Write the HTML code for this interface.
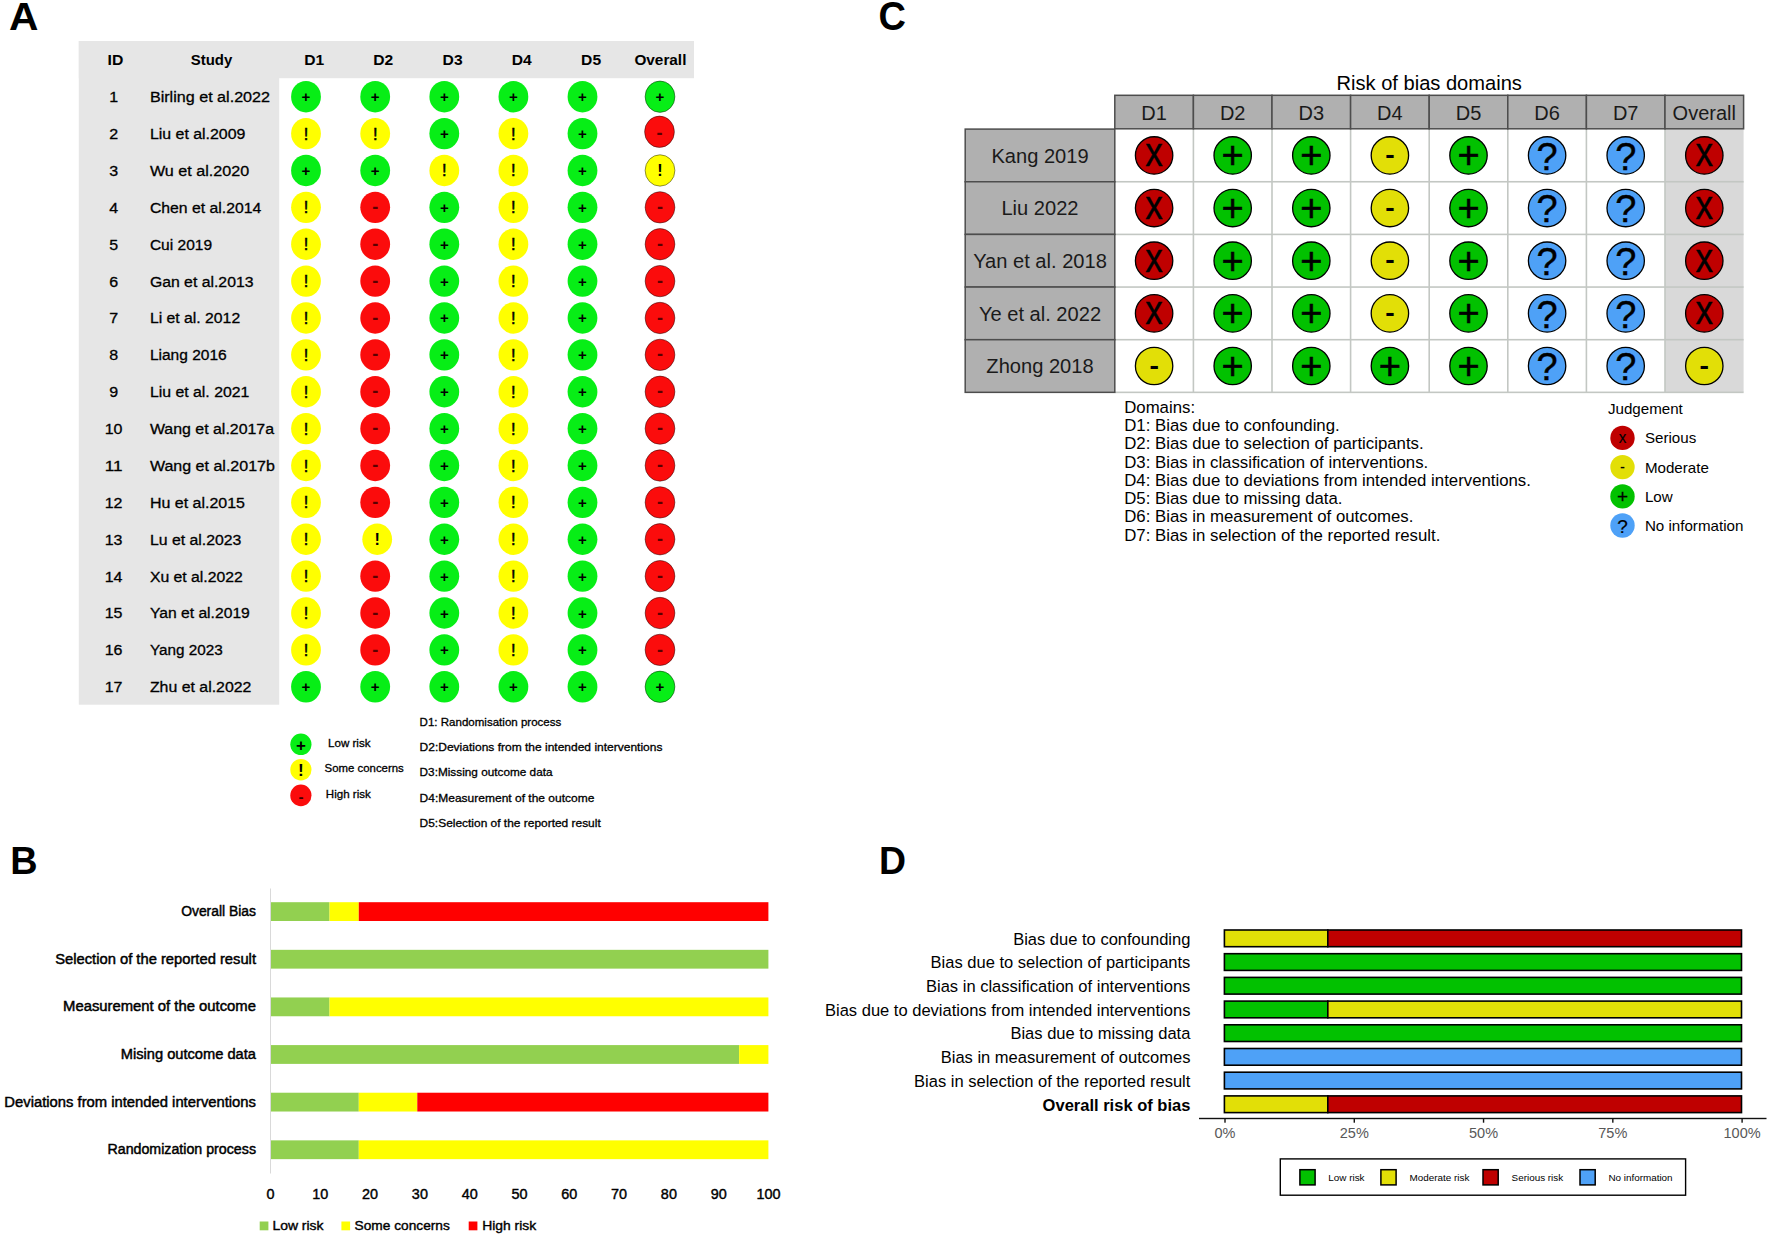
<!DOCTYPE html>
<html lang="en"><head><meta charset="utf-8"><title>Risk of bias figure</title>
<style>
html,body{margin:0;padding:0;background:#fff;}
body{width:1772px;height:1242px;overflow:hidden;font-family:"Liberation Sans",Arial,Helvetica,sans-serif;}
svg{display:block;}
svg text{font-family:"Liberation Sans",Arial,Helvetica,sans-serif;}
</style></head><body>
<svg width="1772" height="1242" viewBox="0 0 1772 1242">
<rect width="1772" height="1242" fill="#fff"/>
<text transform="translate(8.92,29.80) scale(1.030,1)" x="0" y="0" font-size="39.6" font-weight="bold" fill="#000">A</text>
<text transform="translate(10.26,874.00) scale(0.958,1)" x="0" y="0" font-size="39.5" font-weight="bold" fill="#000">B</text>
<text transform="translate(878.43,30.20) scale(0.922,1)" x="0" y="0" font-size="41.2" font-weight="bold" fill="#000">C</text>
<text transform="translate(878.96,874.00) scale(0.952,1)" x="0" y="0" font-size="39.3" font-weight="bold" fill="#000">D</text>
<rect x="78.8" y="41" width="615.2" height="37.2" fill="#e6e6e6"/>
<rect x="78.8" y="41" width="200.4" height="663.7" fill="#e6e6e6"/>
<text x="107.63" y="65.30" font-size="15.50" font-weight="bold" fill="#000" textLength="15.74" lengthAdjust="spacingAndGlyphs">ID</text>
<text x="190.74" y="65.30" font-size="15.50" font-weight="bold" fill="#000" textLength="41.53" lengthAdjust="spacingAndGlyphs">Study</text>
<text x="304.22" y="65.30" font-size="15.50" font-weight="bold" fill="#000" textLength="19.96" lengthAdjust="spacingAndGlyphs">D1</text>
<text x="373.32" y="65.30" font-size="15.50" font-weight="bold" fill="#000" textLength="19.96" lengthAdjust="spacingAndGlyphs">D2</text>
<text x="442.62" y="65.30" font-size="15.50" font-weight="bold" fill="#000" textLength="19.96" lengthAdjust="spacingAndGlyphs">D3</text>
<text x="511.82" y="65.30" font-size="15.50" font-weight="bold" fill="#000" textLength="19.96" lengthAdjust="spacingAndGlyphs">D4</text>
<text x="581.12" y="65.30" font-size="15.50" font-weight="bold" fill="#000" textLength="19.96" lengthAdjust="spacingAndGlyphs">D5</text>
<text x="634.41" y="65.30" font-size="15.50" font-weight="bold" fill="#000" textLength="51.98" lengthAdjust="spacingAndGlyphs">Overall</text>
<text x="109.15" y="102.10" font-size="15.50" fill="#000" stroke="#000" stroke-width="0.3" textLength="8.90" lengthAdjust="spacingAndGlyphs">1</text>
<text x="149.90" y="102.10" font-size="15.50" fill="#000" stroke="#000" stroke-width="0.3" textLength="120.13" lengthAdjust="spacingAndGlyphs">Birling et al.2022</text>
<ellipse cx="306.00" cy="96.70" rx="14.9" ry="15.7" fill="#07ee16"/>
<text x="306.00" y="102.20" font-size="15.0" font-weight="bold" text-anchor="middle" fill="#000">+</text>
<ellipse cx="375.20" cy="96.70" rx="14.9" ry="15.7" fill="#07ee16"/>
<text x="375.20" y="102.20" font-size="15.0" font-weight="bold" text-anchor="middle" fill="#000">+</text>
<ellipse cx="444.30" cy="96.70" rx="14.9" ry="15.7" fill="#07ee16"/>
<text x="444.30" y="102.20" font-size="15.0" font-weight="bold" text-anchor="middle" fill="#000">+</text>
<ellipse cx="513.40" cy="96.70" rx="14.9" ry="15.7" fill="#07ee16"/>
<text x="513.40" y="102.20" font-size="15.0" font-weight="bold" text-anchor="middle" fill="#000">+</text>
<ellipse cx="582.50" cy="96.70" rx="14.9" ry="15.7" fill="#07ee16"/>
<text x="582.50" y="102.20" font-size="15.0" font-weight="bold" text-anchor="middle" fill="#000">+</text>
<ellipse cx="660.00" cy="96.70" rx="14.9" ry="15.7" fill="#07ee16" stroke="#000" stroke-opacity="0.55" stroke-width="0.8"/>
<text x="660.00" y="102.20" font-size="15.0" font-weight="bold" text-anchor="middle" fill="#000">+</text>
<text x="109.15" y="138.98" font-size="15.50" fill="#000" stroke="#000" stroke-width="0.3" textLength="8.90" lengthAdjust="spacingAndGlyphs">2</text>
<text x="149.90" y="138.98" font-size="15.50" fill="#000" stroke="#000" stroke-width="0.3" textLength="95.52" lengthAdjust="spacingAndGlyphs">Liu et al.2009</text>
<ellipse cx="306.00" cy="133.58" rx="14.9" ry="15.7" fill="#ffff00"/>
<text x="306.00" y="139.58" font-size="16.4" text-anchor="middle" fill="#000" stroke="#000" stroke-width="0.5">!</text>
<ellipse cx="375.20" cy="133.58" rx="14.9" ry="15.7" fill="#ffff00"/>
<text x="375.20" y="139.58" font-size="16.4" text-anchor="middle" fill="#000" stroke="#000" stroke-width="0.5">!</text>
<ellipse cx="444.30" cy="133.58" rx="14.9" ry="15.7" fill="#07ee16"/>
<text x="444.30" y="139.08" font-size="15.0" font-weight="bold" text-anchor="middle" fill="#000">+</text>
<ellipse cx="513.40" cy="133.58" rx="14.9" ry="15.7" fill="#ffff00"/>
<text x="513.40" y="139.58" font-size="16.4" text-anchor="middle" fill="#000" stroke="#000" stroke-width="0.5">!</text>
<ellipse cx="582.50" cy="133.58" rx="14.9" ry="15.7" fill="#07ee16"/>
<text x="582.50" y="139.08" font-size="15.0" font-weight="bold" text-anchor="middle" fill="#000">+</text>
<ellipse cx="659.50" cy="131.78" rx="14.9" ry="15.7" fill="#fb0c0c" stroke="#000" stroke-opacity="0.55" stroke-width="0.8"/>
<text x="659.50" y="139.18" font-size="18.0" font-weight="bold" text-anchor="middle" fill="#5a0000">-</text>
<text x="109.15" y="175.86" font-size="15.50" fill="#000" stroke="#000" stroke-width="0.3" textLength="8.90" lengthAdjust="spacingAndGlyphs">3</text>
<text x="149.90" y="175.86" font-size="15.50" fill="#000" stroke="#000" stroke-width="0.3" textLength="99.22" lengthAdjust="spacingAndGlyphs">Wu et al.2020</text>
<ellipse cx="306.00" cy="170.46" rx="14.9" ry="15.7" fill="#07ee16"/>
<text x="306.00" y="175.96" font-size="15.0" font-weight="bold" text-anchor="middle" fill="#000">+</text>
<ellipse cx="375.20" cy="170.46" rx="14.9" ry="15.7" fill="#07ee16"/>
<text x="375.20" y="175.96" font-size="15.0" font-weight="bold" text-anchor="middle" fill="#000">+</text>
<ellipse cx="444.30" cy="170.46" rx="14.9" ry="15.7" fill="#ffff00"/>
<text x="444.30" y="176.46" font-size="16.4" text-anchor="middle" fill="#000" stroke="#000" stroke-width="0.5">!</text>
<ellipse cx="513.40" cy="170.46" rx="14.9" ry="15.7" fill="#ffff00"/>
<text x="513.40" y="176.46" font-size="16.4" text-anchor="middle" fill="#000" stroke="#000" stroke-width="0.5">!</text>
<ellipse cx="582.50" cy="170.46" rx="14.9" ry="15.7" fill="#07ee16"/>
<text x="582.50" y="175.96" font-size="15.0" font-weight="bold" text-anchor="middle" fill="#000">+</text>
<ellipse cx="660.00" cy="170.46" rx="14.9" ry="15.7" fill="#ffff00" stroke="#000" stroke-opacity="0.55" stroke-width="0.8"/>
<text x="660.00" y="176.36" font-size="16.2" font-weight="bold" text-anchor="middle" fill="#000">!</text>
<text x="109.15" y="212.74" font-size="15.50" fill="#000" stroke="#000" stroke-width="0.3" textLength="8.90" lengthAdjust="spacingAndGlyphs">4</text>
<text x="149.90" y="212.74" font-size="15.50" fill="#000" stroke="#000" stroke-width="0.3" textLength="111.43" lengthAdjust="spacingAndGlyphs">Chen et al.2014</text>
<ellipse cx="306.00" cy="207.34" rx="14.9" ry="15.7" fill="#ffff00"/>
<text x="306.00" y="213.34" font-size="16.4" text-anchor="middle" fill="#000" stroke="#000" stroke-width="0.5">!</text>
<ellipse cx="375.20" cy="207.34" rx="14.9" ry="15.7" fill="#fb0c0c"/>
<text x="375.20" y="212.94" font-size="18.0" font-weight="bold" text-anchor="middle" fill="#5a0000">-</text>
<ellipse cx="444.30" cy="207.34" rx="14.9" ry="15.7" fill="#07ee16"/>
<text x="444.30" y="212.84" font-size="15.0" font-weight="bold" text-anchor="middle" fill="#000">+</text>
<ellipse cx="513.40" cy="207.34" rx="14.9" ry="15.7" fill="#ffff00"/>
<text x="513.40" y="213.34" font-size="16.4" text-anchor="middle" fill="#000" stroke="#000" stroke-width="0.5">!</text>
<ellipse cx="582.50" cy="207.34" rx="14.9" ry="15.7" fill="#07ee16"/>
<text x="582.50" y="212.84" font-size="15.0" font-weight="bold" text-anchor="middle" fill="#000">+</text>
<ellipse cx="660.00" cy="207.34" rx="14.9" ry="15.7" fill="#fb0c0c" stroke="#000" stroke-opacity="0.55" stroke-width="0.8"/>
<text x="660.00" y="212.94" font-size="18.0" font-weight="bold" text-anchor="middle" fill="#5a0000">-</text>
<text x="109.15" y="249.62" font-size="15.50" fill="#000" stroke="#000" stroke-width="0.3" textLength="8.90" lengthAdjust="spacingAndGlyphs">5</text>
<text x="149.90" y="249.62" font-size="15.50" fill="#000" stroke="#000" stroke-width="0.3" textLength="62.15" lengthAdjust="spacingAndGlyphs">Cui 2019</text>
<ellipse cx="306.00" cy="244.22" rx="14.9" ry="15.7" fill="#ffff00"/>
<text x="306.00" y="250.22" font-size="16.4" text-anchor="middle" fill="#000" stroke="#000" stroke-width="0.5">!</text>
<ellipse cx="375.20" cy="244.22" rx="14.9" ry="15.7" fill="#fb0c0c"/>
<text x="375.20" y="249.82" font-size="18.0" font-weight="bold" text-anchor="middle" fill="#5a0000">-</text>
<ellipse cx="444.30" cy="244.22" rx="14.9" ry="15.7" fill="#07ee16"/>
<text x="444.30" y="249.72" font-size="15.0" font-weight="bold" text-anchor="middle" fill="#000">+</text>
<ellipse cx="513.40" cy="244.22" rx="14.9" ry="15.7" fill="#ffff00"/>
<text x="513.40" y="250.22" font-size="16.4" text-anchor="middle" fill="#000" stroke="#000" stroke-width="0.5">!</text>
<ellipse cx="582.50" cy="244.22" rx="14.9" ry="15.7" fill="#07ee16"/>
<text x="582.50" y="249.72" font-size="15.0" font-weight="bold" text-anchor="middle" fill="#000">+</text>
<ellipse cx="660.00" cy="244.22" rx="14.9" ry="15.7" fill="#fb0c0c" stroke="#000" stroke-opacity="0.55" stroke-width="0.8"/>
<text x="660.00" y="249.82" font-size="18.0" font-weight="bold" text-anchor="middle" fill="#5a0000">-</text>
<text x="109.15" y="286.50" font-size="15.50" fill="#000" stroke="#000" stroke-width="0.3" textLength="8.90" lengthAdjust="spacingAndGlyphs">6</text>
<text x="149.90" y="286.50" font-size="15.50" fill="#000" stroke="#000" stroke-width="0.3" textLength="103.60" lengthAdjust="spacingAndGlyphs">Gan et al.2013</text>
<ellipse cx="306.00" cy="281.10" rx="14.9" ry="15.7" fill="#ffff00"/>
<text x="306.00" y="287.10" font-size="16.4" text-anchor="middle" fill="#000" stroke="#000" stroke-width="0.5">!</text>
<ellipse cx="375.20" cy="281.10" rx="14.9" ry="15.7" fill="#fb0c0c"/>
<text x="375.20" y="286.70" font-size="18.0" font-weight="bold" text-anchor="middle" fill="#5a0000">-</text>
<ellipse cx="444.30" cy="281.10" rx="14.9" ry="15.7" fill="#07ee16"/>
<text x="444.30" y="286.60" font-size="15.0" font-weight="bold" text-anchor="middle" fill="#000">+</text>
<ellipse cx="513.40" cy="281.10" rx="14.9" ry="15.7" fill="#ffff00"/>
<text x="513.40" y="287.10" font-size="16.4" text-anchor="middle" fill="#000" stroke="#000" stroke-width="0.5">!</text>
<ellipse cx="582.50" cy="281.10" rx="14.9" ry="15.7" fill="#07ee16"/>
<text x="582.50" y="286.60" font-size="15.0" font-weight="bold" text-anchor="middle" fill="#000">+</text>
<ellipse cx="660.00" cy="281.10" rx="14.9" ry="15.7" fill="#fb0c0c" stroke="#000" stroke-opacity="0.55" stroke-width="0.8"/>
<text x="660.00" y="286.70" font-size="18.0" font-weight="bold" text-anchor="middle" fill="#5a0000">-</text>
<text x="109.15" y="323.38" font-size="15.50" fill="#000" stroke="#000" stroke-width="0.3" textLength="8.90" lengthAdjust="spacingAndGlyphs">7</text>
<text x="149.90" y="323.38" font-size="15.50" fill="#000" stroke="#000" stroke-width="0.3" textLength="90.27" lengthAdjust="spacingAndGlyphs">Li et al. 2012</text>
<ellipse cx="306.00" cy="317.98" rx="14.9" ry="15.7" fill="#ffff00"/>
<text x="306.00" y="323.98" font-size="16.4" text-anchor="middle" fill="#000" stroke="#000" stroke-width="0.5">!</text>
<ellipse cx="375.20" cy="317.98" rx="14.9" ry="15.7" fill="#fb0c0c"/>
<text x="375.20" y="323.58" font-size="18.0" font-weight="bold" text-anchor="middle" fill="#5a0000">-</text>
<ellipse cx="444.30" cy="317.98" rx="14.9" ry="15.7" fill="#07ee16"/>
<text x="444.30" y="323.48" font-size="15.0" font-weight="bold" text-anchor="middle" fill="#000">+</text>
<ellipse cx="513.40" cy="317.98" rx="14.9" ry="15.7" fill="#ffff00"/>
<text x="513.40" y="323.98" font-size="16.4" text-anchor="middle" fill="#000" stroke="#000" stroke-width="0.5">!</text>
<ellipse cx="582.50" cy="317.98" rx="14.9" ry="15.7" fill="#07ee16"/>
<text x="582.50" y="323.48" font-size="15.0" font-weight="bold" text-anchor="middle" fill="#000">+</text>
<ellipse cx="660.00" cy="317.98" rx="14.9" ry="15.7" fill="#fb0c0c" stroke="#000" stroke-opacity="0.55" stroke-width="0.8"/>
<text x="660.00" y="323.58" font-size="18.0" font-weight="bold" text-anchor="middle" fill="#5a0000">-</text>
<text x="109.15" y="360.26" font-size="15.50" fill="#000" stroke="#000" stroke-width="0.3" textLength="8.90" lengthAdjust="spacingAndGlyphs">8</text>
<text x="149.90" y="360.26" font-size="15.50" fill="#000" stroke="#000" stroke-width="0.3" textLength="76.84" lengthAdjust="spacingAndGlyphs">Liang 2016</text>
<ellipse cx="306.00" cy="354.86" rx="14.9" ry="15.7" fill="#ffff00"/>
<text x="306.00" y="360.86" font-size="16.4" text-anchor="middle" fill="#000" stroke="#000" stroke-width="0.5">!</text>
<ellipse cx="375.20" cy="354.86" rx="14.9" ry="15.7" fill="#fb0c0c"/>
<text x="375.20" y="360.46" font-size="18.0" font-weight="bold" text-anchor="middle" fill="#5a0000">-</text>
<ellipse cx="444.30" cy="354.86" rx="14.9" ry="15.7" fill="#07ee16"/>
<text x="444.30" y="360.36" font-size="15.0" font-weight="bold" text-anchor="middle" fill="#000">+</text>
<ellipse cx="513.40" cy="354.86" rx="14.9" ry="15.7" fill="#ffff00"/>
<text x="513.40" y="360.86" font-size="16.4" text-anchor="middle" fill="#000" stroke="#000" stroke-width="0.5">!</text>
<ellipse cx="582.50" cy="354.86" rx="14.9" ry="15.7" fill="#07ee16"/>
<text x="582.50" y="360.36" font-size="15.0" font-weight="bold" text-anchor="middle" fill="#000">+</text>
<ellipse cx="660.00" cy="354.86" rx="14.9" ry="15.7" fill="#fb0c0c" stroke="#000" stroke-opacity="0.55" stroke-width="0.8"/>
<text x="660.00" y="360.46" font-size="18.0" font-weight="bold" text-anchor="middle" fill="#5a0000">-</text>
<text x="109.15" y="397.14" font-size="15.50" fill="#000" stroke="#000" stroke-width="0.3" textLength="8.90" lengthAdjust="spacingAndGlyphs">9</text>
<text x="149.90" y="397.14" font-size="15.50" fill="#000" stroke="#000" stroke-width="0.3" textLength="99.49" lengthAdjust="spacingAndGlyphs">Liu et al. 2021</text>
<ellipse cx="306.00" cy="391.74" rx="14.9" ry="15.7" fill="#ffff00"/>
<text x="306.00" y="397.74" font-size="16.4" text-anchor="middle" fill="#000" stroke="#000" stroke-width="0.5">!</text>
<ellipse cx="375.20" cy="391.74" rx="14.9" ry="15.7" fill="#fb0c0c"/>
<text x="375.20" y="397.34" font-size="18.0" font-weight="bold" text-anchor="middle" fill="#5a0000">-</text>
<ellipse cx="444.30" cy="391.74" rx="14.9" ry="15.7" fill="#07ee16"/>
<text x="444.30" y="397.24" font-size="15.0" font-weight="bold" text-anchor="middle" fill="#000">+</text>
<ellipse cx="513.40" cy="391.74" rx="14.9" ry="15.7" fill="#ffff00"/>
<text x="513.40" y="397.74" font-size="16.4" text-anchor="middle" fill="#000" stroke="#000" stroke-width="0.5">!</text>
<ellipse cx="582.50" cy="391.74" rx="14.9" ry="15.7" fill="#07ee16"/>
<text x="582.50" y="397.24" font-size="15.0" font-weight="bold" text-anchor="middle" fill="#000">+</text>
<ellipse cx="660.00" cy="391.74" rx="14.9" ry="15.7" fill="#fb0c0c" stroke="#000" stroke-opacity="0.55" stroke-width="0.8"/>
<text x="660.00" y="397.34" font-size="18.0" font-weight="bold" text-anchor="middle" fill="#5a0000">-</text>
<text x="104.70" y="434.02" font-size="15.50" fill="#000" stroke="#000" stroke-width="0.3" textLength="17.79" lengthAdjust="spacingAndGlyphs">10</text>
<text x="149.90" y="434.02" font-size="15.50" fill="#000" stroke="#000" stroke-width="0.3" textLength="124.20" lengthAdjust="spacingAndGlyphs">Wang et al.2017a</text>
<ellipse cx="306.00" cy="428.62" rx="14.9" ry="15.7" fill="#ffff00"/>
<text x="306.00" y="434.62" font-size="16.4" text-anchor="middle" fill="#000" stroke="#000" stroke-width="0.5">!</text>
<ellipse cx="375.20" cy="428.62" rx="14.9" ry="15.7" fill="#fb0c0c"/>
<text x="375.20" y="434.22" font-size="18.0" font-weight="bold" text-anchor="middle" fill="#5a0000">-</text>
<ellipse cx="444.30" cy="428.62" rx="14.9" ry="15.7" fill="#07ee16"/>
<text x="444.30" y="434.12" font-size="15.0" font-weight="bold" text-anchor="middle" fill="#000">+</text>
<ellipse cx="513.40" cy="428.62" rx="14.9" ry="15.7" fill="#ffff00"/>
<text x="513.40" y="434.62" font-size="16.4" text-anchor="middle" fill="#000" stroke="#000" stroke-width="0.5">!</text>
<ellipse cx="582.50" cy="428.62" rx="14.9" ry="15.7" fill="#07ee16"/>
<text x="582.50" y="434.12" font-size="15.0" font-weight="bold" text-anchor="middle" fill="#000">+</text>
<ellipse cx="660.00" cy="428.62" rx="14.9" ry="15.7" fill="#fb0c0c" stroke="#000" stroke-opacity="0.55" stroke-width="0.8"/>
<text x="660.00" y="434.22" font-size="18.0" font-weight="bold" text-anchor="middle" fill="#5a0000">-</text>
<text x="104.70" y="470.90" font-size="15.50" fill="#000" stroke="#000" stroke-width="0.3" textLength="17.79" lengthAdjust="spacingAndGlyphs">11</text>
<text x="149.90" y="470.90" font-size="15.50" fill="#000" stroke="#000" stroke-width="0.3" textLength="125.01" lengthAdjust="spacingAndGlyphs">Wang et al.2017b</text>
<ellipse cx="306.00" cy="465.50" rx="14.9" ry="15.7" fill="#ffff00"/>
<text x="306.00" y="471.50" font-size="16.4" text-anchor="middle" fill="#000" stroke="#000" stroke-width="0.5">!</text>
<ellipse cx="375.20" cy="465.50" rx="14.9" ry="15.7" fill="#fb0c0c"/>
<text x="375.20" y="471.10" font-size="18.0" font-weight="bold" text-anchor="middle" fill="#5a0000">-</text>
<ellipse cx="444.30" cy="465.50" rx="14.9" ry="15.7" fill="#07ee16"/>
<text x="444.30" y="471.00" font-size="15.0" font-weight="bold" text-anchor="middle" fill="#000">+</text>
<ellipse cx="513.40" cy="465.50" rx="14.9" ry="15.7" fill="#ffff00"/>
<text x="513.40" y="471.50" font-size="16.4" text-anchor="middle" fill="#000" stroke="#000" stroke-width="0.5">!</text>
<ellipse cx="582.50" cy="465.50" rx="14.9" ry="15.7" fill="#07ee16"/>
<text x="582.50" y="471.00" font-size="15.0" font-weight="bold" text-anchor="middle" fill="#000">+</text>
<ellipse cx="660.00" cy="465.50" rx="14.9" ry="15.7" fill="#fb0c0c" stroke="#000" stroke-opacity="0.55" stroke-width="0.8"/>
<text x="660.00" y="471.10" font-size="18.0" font-weight="bold" text-anchor="middle" fill="#5a0000">-</text>
<text x="104.70" y="507.78" font-size="15.50" fill="#000" stroke="#000" stroke-width="0.3" textLength="17.79" lengthAdjust="spacingAndGlyphs">12</text>
<text x="149.90" y="507.78" font-size="15.50" fill="#000" stroke="#000" stroke-width="0.3" textLength="95.05" lengthAdjust="spacingAndGlyphs">Hu et al.2015</text>
<ellipse cx="306.00" cy="502.38" rx="14.9" ry="15.7" fill="#ffff00"/>
<text x="306.00" y="508.38" font-size="16.4" text-anchor="middle" fill="#000" stroke="#000" stroke-width="0.5">!</text>
<ellipse cx="375.20" cy="502.38" rx="14.9" ry="15.7" fill="#fb0c0c"/>
<text x="375.20" y="507.98" font-size="18.0" font-weight="bold" text-anchor="middle" fill="#5a0000">-</text>
<ellipse cx="444.30" cy="502.38" rx="14.9" ry="15.7" fill="#07ee16"/>
<text x="444.30" y="507.88" font-size="15.0" font-weight="bold" text-anchor="middle" fill="#000">+</text>
<ellipse cx="513.40" cy="502.38" rx="14.9" ry="15.7" fill="#ffff00"/>
<text x="513.40" y="508.38" font-size="16.4" text-anchor="middle" fill="#000" stroke="#000" stroke-width="0.5">!</text>
<ellipse cx="582.50" cy="502.38" rx="14.9" ry="15.7" fill="#07ee16"/>
<text x="582.50" y="507.88" font-size="15.0" font-weight="bold" text-anchor="middle" fill="#000">+</text>
<ellipse cx="660.00" cy="502.38" rx="14.9" ry="15.7" fill="#fb0c0c" stroke="#000" stroke-opacity="0.55" stroke-width="0.8"/>
<text x="660.00" y="507.98" font-size="18.0" font-weight="bold" text-anchor="middle" fill="#5a0000">-</text>
<text x="104.70" y="544.66" font-size="15.50" fill="#000" stroke="#000" stroke-width="0.3" textLength="17.79" lengthAdjust="spacingAndGlyphs">13</text>
<text x="149.90" y="544.66" font-size="15.50" fill="#000" stroke="#000" stroke-width="0.3" textLength="91.50" lengthAdjust="spacingAndGlyphs">Lu et al.2023</text>
<ellipse cx="306.00" cy="539.26" rx="14.9" ry="15.7" fill="#ffff00"/>
<text x="306.00" y="545.26" font-size="16.4" text-anchor="middle" fill="#000" stroke="#000" stroke-width="0.5">!</text>
<ellipse cx="377.20" cy="539.26" rx="14.9" ry="15.7" fill="#ffff00"/>
<text x="377.20" y="545.16" font-size="16.2" font-weight="bold" text-anchor="middle" fill="#000">!</text>
<ellipse cx="444.30" cy="539.26" rx="14.9" ry="15.7" fill="#07ee16"/>
<text x="444.30" y="544.76" font-size="15.0" font-weight="bold" text-anchor="middle" fill="#000">+</text>
<ellipse cx="513.40" cy="539.26" rx="14.9" ry="15.7" fill="#ffff00"/>
<text x="513.40" y="545.26" font-size="16.4" text-anchor="middle" fill="#000" stroke="#000" stroke-width="0.5">!</text>
<ellipse cx="582.50" cy="539.26" rx="14.9" ry="15.7" fill="#07ee16"/>
<text x="582.50" y="544.76" font-size="15.0" font-weight="bold" text-anchor="middle" fill="#000">+</text>
<ellipse cx="660.00" cy="539.26" rx="14.9" ry="15.7" fill="#fb0c0c" stroke="#000" stroke-opacity="0.55" stroke-width="0.8"/>
<text x="660.00" y="544.86" font-size="18.0" font-weight="bold" text-anchor="middle" fill="#5a0000">-</text>
<text x="104.70" y="581.54" font-size="15.50" fill="#000" stroke="#000" stroke-width="0.3" textLength="17.79" lengthAdjust="spacingAndGlyphs">14</text>
<text x="149.90" y="581.54" font-size="15.50" fill="#000" stroke="#000" stroke-width="0.3" textLength="92.90" lengthAdjust="spacingAndGlyphs">Xu et al.2022</text>
<ellipse cx="306.00" cy="576.14" rx="14.9" ry="15.7" fill="#ffff00"/>
<text x="306.00" y="582.14" font-size="16.4" text-anchor="middle" fill="#000" stroke="#000" stroke-width="0.5">!</text>
<ellipse cx="375.20" cy="576.14" rx="14.9" ry="15.7" fill="#fb0c0c"/>
<text x="375.20" y="581.74" font-size="18.0" font-weight="bold" text-anchor="middle" fill="#5a0000">-</text>
<ellipse cx="444.30" cy="576.14" rx="14.9" ry="15.7" fill="#07ee16"/>
<text x="444.30" y="581.64" font-size="15.0" font-weight="bold" text-anchor="middle" fill="#000">+</text>
<ellipse cx="513.40" cy="576.14" rx="14.9" ry="15.7" fill="#ffff00"/>
<text x="513.40" y="582.14" font-size="16.4" text-anchor="middle" fill="#000" stroke="#000" stroke-width="0.5">!</text>
<ellipse cx="582.50" cy="576.14" rx="14.9" ry="15.7" fill="#07ee16"/>
<text x="582.50" y="581.64" font-size="15.0" font-weight="bold" text-anchor="middle" fill="#000">+</text>
<ellipse cx="660.00" cy="576.14" rx="14.9" ry="15.7" fill="#fb0c0c" stroke="#000" stroke-opacity="0.55" stroke-width="0.8"/>
<text x="660.00" y="581.74" font-size="18.0" font-weight="bold" text-anchor="middle" fill="#5a0000">-</text>
<text x="104.70" y="618.42" font-size="15.50" fill="#000" stroke="#000" stroke-width="0.3" textLength="17.79" lengthAdjust="spacingAndGlyphs">15</text>
<text x="149.90" y="618.42" font-size="15.50" fill="#000" stroke="#000" stroke-width="0.3" textLength="99.93" lengthAdjust="spacingAndGlyphs">Yan et al.2019</text>
<ellipse cx="306.00" cy="613.02" rx="14.9" ry="15.7" fill="#ffff00"/>
<text x="306.00" y="619.02" font-size="16.4" text-anchor="middle" fill="#000" stroke="#000" stroke-width="0.5">!</text>
<ellipse cx="375.20" cy="613.02" rx="14.9" ry="15.7" fill="#fb0c0c"/>
<text x="375.20" y="618.62" font-size="18.0" font-weight="bold" text-anchor="middle" fill="#5a0000">-</text>
<ellipse cx="444.30" cy="613.02" rx="14.9" ry="15.7" fill="#07ee16"/>
<text x="444.30" y="618.52" font-size="15.0" font-weight="bold" text-anchor="middle" fill="#000">+</text>
<ellipse cx="513.40" cy="613.02" rx="14.9" ry="15.7" fill="#ffff00"/>
<text x="513.40" y="619.02" font-size="16.4" text-anchor="middle" fill="#000" stroke="#000" stroke-width="0.5">!</text>
<ellipse cx="582.50" cy="613.02" rx="14.9" ry="15.7" fill="#07ee16"/>
<text x="582.50" y="618.52" font-size="15.0" font-weight="bold" text-anchor="middle" fill="#000">+</text>
<ellipse cx="660.00" cy="613.02" rx="14.9" ry="15.7" fill="#fb0c0c" stroke="#000" stroke-opacity="0.55" stroke-width="0.8"/>
<text x="660.00" y="618.62" font-size="18.0" font-weight="bold" text-anchor="middle" fill="#5a0000">-</text>
<text x="104.70" y="655.30" font-size="15.50" fill="#000" stroke="#000" stroke-width="0.3" textLength="17.79" lengthAdjust="spacingAndGlyphs">16</text>
<text x="149.90" y="655.30" font-size="15.50" fill="#000" stroke="#000" stroke-width="0.3" textLength="72.84" lengthAdjust="spacingAndGlyphs">Yang 2023</text>
<ellipse cx="306.00" cy="649.90" rx="14.9" ry="15.7" fill="#ffff00"/>
<text x="306.00" y="655.90" font-size="16.4" text-anchor="middle" fill="#000" stroke="#000" stroke-width="0.5">!</text>
<ellipse cx="375.20" cy="649.90" rx="14.9" ry="15.7" fill="#fb0c0c"/>
<text x="375.20" y="655.50" font-size="18.0" font-weight="bold" text-anchor="middle" fill="#5a0000">-</text>
<ellipse cx="444.30" cy="649.90" rx="14.9" ry="15.7" fill="#07ee16"/>
<text x="444.30" y="655.40" font-size="15.0" font-weight="bold" text-anchor="middle" fill="#000">+</text>
<ellipse cx="513.40" cy="649.90" rx="14.9" ry="15.7" fill="#ffff00"/>
<text x="513.40" y="655.90" font-size="16.4" text-anchor="middle" fill="#000" stroke="#000" stroke-width="0.5">!</text>
<ellipse cx="582.50" cy="649.90" rx="14.9" ry="15.7" fill="#07ee16"/>
<text x="582.50" y="655.40" font-size="15.0" font-weight="bold" text-anchor="middle" fill="#000">+</text>
<ellipse cx="660.00" cy="649.90" rx="14.9" ry="15.7" fill="#fb0c0c" stroke="#000" stroke-opacity="0.55" stroke-width="0.8"/>
<text x="660.00" y="655.50" font-size="18.0" font-weight="bold" text-anchor="middle" fill="#5a0000">-</text>
<text x="104.70" y="692.18" font-size="15.50" fill="#000" stroke="#000" stroke-width="0.3" textLength="17.79" lengthAdjust="spacingAndGlyphs">17</text>
<text x="149.90" y="692.18" font-size="15.50" fill="#000" stroke="#000" stroke-width="0.3" textLength="101.56" lengthAdjust="spacingAndGlyphs">Zhu et al.2022</text>
<ellipse cx="306.00" cy="686.78" rx="14.9" ry="15.7" fill="#07ee16"/>
<text x="306.00" y="692.28" font-size="15.0" font-weight="bold" text-anchor="middle" fill="#000">+</text>
<ellipse cx="375.20" cy="686.78" rx="14.9" ry="15.7" fill="#07ee16"/>
<text x="375.20" y="692.28" font-size="15.0" font-weight="bold" text-anchor="middle" fill="#000">+</text>
<ellipse cx="444.30" cy="686.78" rx="14.9" ry="15.7" fill="#07ee16"/>
<text x="444.30" y="692.28" font-size="15.0" font-weight="bold" text-anchor="middle" fill="#000">+</text>
<ellipse cx="513.40" cy="686.78" rx="14.9" ry="15.7" fill="#07ee16"/>
<text x="513.40" y="692.28" font-size="15.0" font-weight="bold" text-anchor="middle" fill="#000">+</text>
<ellipse cx="582.50" cy="686.78" rx="14.9" ry="15.7" fill="#07ee16"/>
<text x="582.50" y="692.28" font-size="15.0" font-weight="bold" text-anchor="middle" fill="#000">+</text>
<ellipse cx="660.00" cy="686.78" rx="14.9" ry="15.7" fill="#07ee16" stroke="#000" stroke-opacity="0.55" stroke-width="0.8"/>
<text x="660.00" y="692.28" font-size="15.0" font-weight="bold" text-anchor="middle" fill="#000">+</text>
<ellipse cx="300.9" cy="744.3" rx="10.6" ry="10.8" fill="#07ee16"/>
<text x="300.90" y="751.10" font-size="17" font-weight="bold" text-anchor="middle" fill="#000">+</text>
<ellipse cx="300.9" cy="769.7" rx="10.6" ry="10.8" fill="#ffff00"/>
<text x="300.90" y="775.90" font-size="17.2" font-weight="bold" text-anchor="middle" fill="#000">!</text>
<ellipse cx="300.9" cy="795.4" rx="10.6" ry="10.8" fill="#fb0c0c"/>
<text x="300.90" y="801.60" font-size="15" font-weight="bold" text-anchor="middle" fill="#3a0000">-</text>
<text x="328.00" y="747.00" font-size="11.35" fill="#000" stroke="#000" stroke-width="0.3" textLength="42.52" lengthAdjust="spacingAndGlyphs">Low risk</text>
<text x="324.60" y="772.00" font-size="11.35" fill="#000" stroke="#000" stroke-width="0.3" textLength="79.18" lengthAdjust="spacingAndGlyphs">Some concerns</text>
<text x="325.80" y="798.00" font-size="11.35" fill="#000" stroke="#000" stroke-width="0.3" textLength="44.96" lengthAdjust="spacingAndGlyphs">High risk</text>
<text x="419.60" y="726.00" font-size="11.35" fill="#000" stroke="#000" stroke-width="0.3" textLength="141.72" lengthAdjust="spacingAndGlyphs">D1: Randomisation process</text>
<text x="419.60" y="751.30" font-size="11.35" fill="#000" stroke="#000" stroke-width="0.3" textLength="242.85" lengthAdjust="spacingAndGlyphs">D2:Deviations from the intended interventions</text>
<text x="419.60" y="776.40" font-size="11.35" fill="#000" stroke="#000" stroke-width="0.3" textLength="132.93" lengthAdjust="spacingAndGlyphs">D3:Missing outcome data</text>
<text x="419.60" y="802.20" font-size="11.35" fill="#000" stroke="#000" stroke-width="0.3" textLength="174.77" lengthAdjust="spacingAndGlyphs">D4:Measurement of the outcome</text>
<text x="419.60" y="827.30" font-size="11.35" fill="#000" stroke="#000" stroke-width="0.3" textLength="181.14" lengthAdjust="spacingAndGlyphs">D5:Selection of the reported result</text>
<rect x="270" y="888.5" width="1" height="285" fill="#d9d9d9"/>
<rect x="271.00" y="902.20" width="58.52" height="18.8" fill="#92d050"/>
<rect x="329.52" y="902.20" width="29.26" height="18.8" fill="#ffff00"/>
<rect x="358.78" y="902.20" width="409.62" height="18.8" fill="#ff0000"/>
<text x="181.15" y="916.20" font-size="13.95" fill="#000" stroke="#000" stroke-width="0.45" textLength="74.85" lengthAdjust="spacingAndGlyphs">Overall Bias</text>
<rect x="271.00" y="949.83" width="497.40" height="18.8" fill="#92d050"/>
<text x="55.23" y="963.83" font-size="13.95" fill="#000" stroke="#000" stroke-width="0.45" textLength="200.77" lengthAdjust="spacingAndGlyphs">Selection of the reported result</text>
<rect x="271.00" y="997.46" width="58.52" height="18.8" fill="#92d050"/>
<rect x="329.52" y="997.46" width="438.88" height="18.8" fill="#ffff00"/>
<text x="63.07" y="1011.46" font-size="13.95" fill="#000" stroke="#000" stroke-width="0.45" textLength="192.93" lengthAdjust="spacingAndGlyphs">Measurement of the outcome</text>
<rect x="271.00" y="1045.09" width="468.14" height="18.8" fill="#92d050"/>
<rect x="739.14" y="1045.09" width="29.26" height="18.8" fill="#ffff00"/>
<text x="120.69" y="1059.09" font-size="13.95" fill="#000" stroke="#000" stroke-width="0.45" textLength="135.31" lengthAdjust="spacingAndGlyphs">Mising outcome data</text>
<rect x="271.00" y="1092.72" width="87.78" height="18.8" fill="#92d050"/>
<rect x="358.78" y="1092.72" width="58.52" height="18.8" fill="#ffff00"/>
<rect x="417.29" y="1092.72" width="351.11" height="18.8" fill="#ff0000"/>
<text x="4.39" y="1106.72" font-size="13.95" fill="#000" stroke="#000" stroke-width="0.45" textLength="251.61" lengthAdjust="spacingAndGlyphs">Deviations from intended interventions</text>
<rect x="271.00" y="1140.35" width="87.78" height="18.8" fill="#92d050"/>
<rect x="358.78" y="1140.35" width="409.62" height="18.8" fill="#ffff00"/>
<text x="107.47" y="1154.35" font-size="13.95" fill="#000" stroke="#000" stroke-width="0.45" textLength="148.53" lengthAdjust="spacingAndGlyphs">Randomization process</text>
<text x="266.50" y="1198.60" font-size="13.95" fill="#000" stroke="#000" stroke-width="0.4" textLength="8.01" lengthAdjust="spacingAndGlyphs">0</text>
<text x="312.29" y="1198.60" font-size="13.95" fill="#000" stroke="#000" stroke-width="0.4" textLength="16.02" lengthAdjust="spacingAndGlyphs">10</text>
<text x="362.09" y="1198.60" font-size="13.95" fill="#000" stroke="#000" stroke-width="0.4" textLength="16.02" lengthAdjust="spacingAndGlyphs">20</text>
<text x="411.89" y="1198.60" font-size="13.95" fill="#000" stroke="#000" stroke-width="0.4" textLength="16.02" lengthAdjust="spacingAndGlyphs">30</text>
<text x="461.69" y="1198.60" font-size="13.95" fill="#000" stroke="#000" stroke-width="0.4" textLength="16.02" lengthAdjust="spacingAndGlyphs">40</text>
<text x="511.49" y="1198.60" font-size="13.95" fill="#000" stroke="#000" stroke-width="0.4" textLength="16.02" lengthAdjust="spacingAndGlyphs">50</text>
<text x="561.29" y="1198.60" font-size="13.95" fill="#000" stroke="#000" stroke-width="0.4" textLength="16.02" lengthAdjust="spacingAndGlyphs">60</text>
<text x="611.09" y="1198.60" font-size="13.95" fill="#000" stroke="#000" stroke-width="0.4" textLength="16.02" lengthAdjust="spacingAndGlyphs">70</text>
<text x="660.89" y="1198.60" font-size="13.95" fill="#000" stroke="#000" stroke-width="0.4" textLength="16.02" lengthAdjust="spacingAndGlyphs">80</text>
<text x="710.69" y="1198.60" font-size="13.95" fill="#000" stroke="#000" stroke-width="0.4" textLength="16.02" lengthAdjust="spacingAndGlyphs">90</text>
<text x="756.49" y="1198.60" font-size="13.95" fill="#000" stroke="#000" stroke-width="0.4" textLength="24.02" lengthAdjust="spacingAndGlyphs">100</text>
<rect x="259.7" y="1221.5" width="8.7" height="8.8" fill="#92d050"/>
<text x="272.40" y="1230.20" font-size="13.64" fill="#000" stroke="#000" stroke-width="0.4" textLength="51.12" lengthAdjust="spacingAndGlyphs">Low risk</text>
<rect x="341.4" y="1221.5" width="8.7" height="8.8" fill="#ffff00"/>
<text x="354.60" y="1230.20" font-size="13.64" fill="#000" stroke="#000" stroke-width="0.4" textLength="95.21" lengthAdjust="spacingAndGlyphs">Some concerns</text>
<rect x="468.7" y="1221.5" width="8.7" height="8.8" fill="#ff0000"/>
<text x="482.20" y="1230.20" font-size="13.64" fill="#000" stroke="#000" stroke-width="0.4" textLength="54.05" lengthAdjust="spacingAndGlyphs">High risk</text>
<rect x="1665.00" y="129.10" width="78.60" height="263.25" fill="#d9d9d9"/>
<rect x="1192.60" y="129.10" width="1.6" height="263.25" fill="#c3c7c3"/>
<rect x="1271.20" y="129.10" width="1.6" height="263.25" fill="#c3c7c3"/>
<rect x="1349.80" y="129.10" width="1.6" height="263.25" fill="#c3c7c3"/>
<rect x="1428.40" y="129.10" width="1.6" height="263.25" fill="#c3c7c3"/>
<rect x="1507.00" y="129.10" width="1.6" height="263.25" fill="#c3c7c3"/>
<rect x="1585.60" y="129.10" width="1.6" height="263.25" fill="#c3c7c3"/>
<rect x="1664.20" y="129.10" width="1.6" height="263.25" fill="#c3c7c3"/>
<rect x="1114.80" y="180.95" width="628.80" height="1.6" fill="#c3c7c3"/>
<rect x="1114.80" y="233.60" width="628.80" height="1.6" fill="#c3c7c3"/>
<rect x="1114.80" y="286.25" width="628.80" height="1.6" fill="#c3c7c3"/>
<rect x="1114.80" y="338.90" width="628.80" height="1.6" fill="#c3c7c3"/>
<rect x="1114.80" y="391.55" width="628.80" height="1.6" fill="#c3c7c3"/>
<text x="1429.20" y="89.80" font-size="20.1" text-anchor="middle" fill="#000">Risk of bias domains</text>
<rect x="1114.80" y="95.3" width="78.60" height="33.5" fill="#b0b0b0" stroke="#4d4d4d" stroke-width="1.5"/>
<text x="1154.10" y="119.60" font-size="20" text-anchor="middle" fill="#1a1a1a">D1</text>
<rect x="1193.40" y="95.3" width="78.60" height="33.5" fill="#b0b0b0" stroke="#4d4d4d" stroke-width="1.5"/>
<text x="1232.70" y="119.60" font-size="20" text-anchor="middle" fill="#1a1a1a">D2</text>
<rect x="1272.00" y="95.3" width="78.60" height="33.5" fill="#b0b0b0" stroke="#4d4d4d" stroke-width="1.5"/>
<text x="1311.30" y="119.60" font-size="20" text-anchor="middle" fill="#1a1a1a">D3</text>
<rect x="1350.60" y="95.3" width="78.60" height="33.5" fill="#b0b0b0" stroke="#4d4d4d" stroke-width="1.5"/>
<text x="1389.90" y="119.60" font-size="20" text-anchor="middle" fill="#1a1a1a">D4</text>
<rect x="1429.20" y="95.3" width="78.60" height="33.5" fill="#b0b0b0" stroke="#4d4d4d" stroke-width="1.5"/>
<text x="1468.50" y="119.60" font-size="20" text-anchor="middle" fill="#1a1a1a">D5</text>
<rect x="1507.80" y="95.3" width="78.60" height="33.5" fill="#b0b0b0" stroke="#4d4d4d" stroke-width="1.5"/>
<text x="1547.10" y="119.60" font-size="20" text-anchor="middle" fill="#1a1a1a">D6</text>
<rect x="1586.40" y="95.3" width="78.60" height="33.5" fill="#b0b0b0" stroke="#4d4d4d" stroke-width="1.5"/>
<text x="1625.70" y="119.60" font-size="20" text-anchor="middle" fill="#1a1a1a">D7</text>
<rect x="1665.00" y="95.3" width="78.60" height="33.5" fill="#b0b0b0" stroke="#4d4d4d" stroke-width="1.5"/>
<text x="1704.30" y="119.60" font-size="20" text-anchor="middle" fill="#1a1a1a">Overall</text>
<rect x="965.2" y="129.10" width="149.60" height="52.65" fill="#b0b0b0" stroke="#4d4d4d" stroke-width="1.5"/>
<text x="1040.00" y="162.83" font-size="20.1" text-anchor="middle" fill="#1a1a1a">Kang 2019</text>
<circle cx="1154.10" cy="155.43" r="18.7" fill="#bf0000" stroke="#000" stroke-width="1.3"/>
<text transform="translate(1154.10,155.43) scale(0.920,1.050)" x="0" y="10.4" font-size="38" text-anchor="middle" fill="#000" stroke="#000" stroke-width="0.4">x</text>
<circle cx="1232.70" cy="155.43" r="18.7" fill="#02c100" stroke="#000" stroke-width="1.3"/>
<text transform="translate(1232.70,155.43) scale(1.000)" x="0" y="13.0" font-size="38" text-anchor="middle" fill="#000" stroke="#000" stroke-width="0.5">+</text>
<circle cx="1311.30" cy="155.43" r="18.7" fill="#02c100" stroke="#000" stroke-width="1.3"/>
<text transform="translate(1311.30,155.43) scale(1.000)" x="0" y="13.0" font-size="38" text-anchor="middle" fill="#000" stroke="#000" stroke-width="0.5">+</text>
<circle cx="1389.90" cy="155.43" r="18.7" fill="#e2df07" stroke="#000" stroke-width="1.3"/>
<text transform="translate(1389.90,155.43) scale(0.780,1.000)" x="0" y="11.6" font-size="38" text-anchor="middle" fill="#000">-</text>
<circle cx="1468.50" cy="155.43" r="18.7" fill="#02c100" stroke="#000" stroke-width="1.3"/>
<text transform="translate(1468.50,155.43) scale(1.000)" x="0" y="13.0" font-size="38" text-anchor="middle" fill="#000" stroke="#000" stroke-width="0.5">+</text>
<circle cx="1547.10" cy="155.43" r="18.7" fill="#4ea1f7" stroke="#000" stroke-width="1.3"/>
<text transform="translate(1547.10,155.43) scale(1.000)" x="0" y="14.3" font-size="38" text-anchor="middle" fill="#000" stroke="#000" stroke-width="0.4">?</text>
<circle cx="1625.70" cy="155.43" r="18.7" fill="#4ea1f7" stroke="#000" stroke-width="1.3"/>
<text transform="translate(1625.70,155.43) scale(1.000)" x="0" y="14.3" font-size="38" text-anchor="middle" fill="#000" stroke="#000" stroke-width="0.4">?</text>
<circle cx="1704.30" cy="155.43" r="18.7" fill="#bf0000" stroke="#000" stroke-width="1.3"/>
<text transform="translate(1704.30,155.43) scale(0.920,1.050)" x="0" y="10.4" font-size="38" text-anchor="middle" fill="#000" stroke="#000" stroke-width="0.4">x</text>
<rect x="965.2" y="181.75" width="149.60" height="52.65" fill="#b0b0b0" stroke="#4d4d4d" stroke-width="1.5"/>
<text x="1040.00" y="215.47" font-size="20.1" text-anchor="middle" fill="#1a1a1a">Liu 2022</text>
<circle cx="1154.10" cy="208.07" r="18.7" fill="#bf0000" stroke="#000" stroke-width="1.3"/>
<text transform="translate(1154.10,208.07) scale(0.920,1.050)" x="0" y="10.4" font-size="38" text-anchor="middle" fill="#000" stroke="#000" stroke-width="0.4">x</text>
<circle cx="1232.70" cy="208.07" r="18.7" fill="#02c100" stroke="#000" stroke-width="1.3"/>
<text transform="translate(1232.70,208.07) scale(1.000)" x="0" y="13.0" font-size="38" text-anchor="middle" fill="#000" stroke="#000" stroke-width="0.5">+</text>
<circle cx="1311.30" cy="208.07" r="18.7" fill="#02c100" stroke="#000" stroke-width="1.3"/>
<text transform="translate(1311.30,208.07) scale(1.000)" x="0" y="13.0" font-size="38" text-anchor="middle" fill="#000" stroke="#000" stroke-width="0.5">+</text>
<circle cx="1389.90" cy="208.07" r="18.7" fill="#e2df07" stroke="#000" stroke-width="1.3"/>
<text transform="translate(1389.90,208.07) scale(0.780,1.000)" x="0" y="11.6" font-size="38" text-anchor="middle" fill="#000">-</text>
<circle cx="1468.50" cy="208.07" r="18.7" fill="#02c100" stroke="#000" stroke-width="1.3"/>
<text transform="translate(1468.50,208.07) scale(1.000)" x="0" y="13.0" font-size="38" text-anchor="middle" fill="#000" stroke="#000" stroke-width="0.5">+</text>
<circle cx="1547.10" cy="208.07" r="18.7" fill="#4ea1f7" stroke="#000" stroke-width="1.3"/>
<text transform="translate(1547.10,208.07) scale(1.000)" x="0" y="14.3" font-size="38" text-anchor="middle" fill="#000" stroke="#000" stroke-width="0.4">?</text>
<circle cx="1625.70" cy="208.07" r="18.7" fill="#4ea1f7" stroke="#000" stroke-width="1.3"/>
<text transform="translate(1625.70,208.07) scale(1.000)" x="0" y="14.3" font-size="38" text-anchor="middle" fill="#000" stroke="#000" stroke-width="0.4">?</text>
<circle cx="1704.30" cy="208.07" r="18.7" fill="#bf0000" stroke="#000" stroke-width="1.3"/>
<text transform="translate(1704.30,208.07) scale(0.920,1.050)" x="0" y="10.4" font-size="38" text-anchor="middle" fill="#000" stroke="#000" stroke-width="0.4">x</text>
<rect x="965.2" y="234.40" width="149.60" height="52.65" fill="#b0b0b0" stroke="#4d4d4d" stroke-width="1.5"/>
<text x="1040.00" y="268.12" font-size="20.1" text-anchor="middle" fill="#1a1a1a">Yan et al. 2018</text>
<circle cx="1154.10" cy="260.72" r="18.7" fill="#bf0000" stroke="#000" stroke-width="1.3"/>
<text transform="translate(1154.10,260.72) scale(0.920,1.050)" x="0" y="10.4" font-size="38" text-anchor="middle" fill="#000" stroke="#000" stroke-width="0.4">x</text>
<circle cx="1232.70" cy="260.72" r="18.7" fill="#02c100" stroke="#000" stroke-width="1.3"/>
<text transform="translate(1232.70,260.72) scale(1.000)" x="0" y="13.0" font-size="38" text-anchor="middle" fill="#000" stroke="#000" stroke-width="0.5">+</text>
<circle cx="1311.30" cy="260.72" r="18.7" fill="#02c100" stroke="#000" stroke-width="1.3"/>
<text transform="translate(1311.30,260.72) scale(1.000)" x="0" y="13.0" font-size="38" text-anchor="middle" fill="#000" stroke="#000" stroke-width="0.5">+</text>
<circle cx="1389.90" cy="260.72" r="18.7" fill="#e2df07" stroke="#000" stroke-width="1.3"/>
<text transform="translate(1389.90,260.72) scale(0.780,1.000)" x="0" y="11.6" font-size="38" text-anchor="middle" fill="#000">-</text>
<circle cx="1468.50" cy="260.72" r="18.7" fill="#02c100" stroke="#000" stroke-width="1.3"/>
<text transform="translate(1468.50,260.72) scale(1.000)" x="0" y="13.0" font-size="38" text-anchor="middle" fill="#000" stroke="#000" stroke-width="0.5">+</text>
<circle cx="1547.10" cy="260.72" r="18.7" fill="#4ea1f7" stroke="#000" stroke-width="1.3"/>
<text transform="translate(1547.10,260.72) scale(1.000)" x="0" y="14.3" font-size="38" text-anchor="middle" fill="#000" stroke="#000" stroke-width="0.4">?</text>
<circle cx="1625.70" cy="260.72" r="18.7" fill="#4ea1f7" stroke="#000" stroke-width="1.3"/>
<text transform="translate(1625.70,260.72) scale(1.000)" x="0" y="14.3" font-size="38" text-anchor="middle" fill="#000" stroke="#000" stroke-width="0.4">?</text>
<circle cx="1704.30" cy="260.72" r="18.7" fill="#bf0000" stroke="#000" stroke-width="1.3"/>
<text transform="translate(1704.30,260.72) scale(0.920,1.050)" x="0" y="10.4" font-size="38" text-anchor="middle" fill="#000" stroke="#000" stroke-width="0.4">x</text>
<rect x="965.2" y="287.05" width="149.60" height="52.65" fill="#b0b0b0" stroke="#4d4d4d" stroke-width="1.5"/>
<text x="1040.00" y="320.77" font-size="20.1" text-anchor="middle" fill="#1a1a1a">Ye et al. 2022</text>
<circle cx="1154.10" cy="313.38" r="18.7" fill="#bf0000" stroke="#000" stroke-width="1.3"/>
<text transform="translate(1154.10,313.38) scale(0.920,1.050)" x="0" y="10.4" font-size="38" text-anchor="middle" fill="#000" stroke="#000" stroke-width="0.4">x</text>
<circle cx="1232.70" cy="313.38" r="18.7" fill="#02c100" stroke="#000" stroke-width="1.3"/>
<text transform="translate(1232.70,313.38) scale(1.000)" x="0" y="13.0" font-size="38" text-anchor="middle" fill="#000" stroke="#000" stroke-width="0.5">+</text>
<circle cx="1311.30" cy="313.38" r="18.7" fill="#02c100" stroke="#000" stroke-width="1.3"/>
<text transform="translate(1311.30,313.38) scale(1.000)" x="0" y="13.0" font-size="38" text-anchor="middle" fill="#000" stroke="#000" stroke-width="0.5">+</text>
<circle cx="1389.90" cy="313.38" r="18.7" fill="#e2df07" stroke="#000" stroke-width="1.3"/>
<text transform="translate(1389.90,313.38) scale(0.780,1.000)" x="0" y="11.6" font-size="38" text-anchor="middle" fill="#000">-</text>
<circle cx="1468.50" cy="313.38" r="18.7" fill="#02c100" stroke="#000" stroke-width="1.3"/>
<text transform="translate(1468.50,313.38) scale(1.000)" x="0" y="13.0" font-size="38" text-anchor="middle" fill="#000" stroke="#000" stroke-width="0.5">+</text>
<circle cx="1547.10" cy="313.38" r="18.7" fill="#4ea1f7" stroke="#000" stroke-width="1.3"/>
<text transform="translate(1547.10,313.38) scale(1.000)" x="0" y="14.3" font-size="38" text-anchor="middle" fill="#000" stroke="#000" stroke-width="0.4">?</text>
<circle cx="1625.70" cy="313.38" r="18.7" fill="#4ea1f7" stroke="#000" stroke-width="1.3"/>
<text transform="translate(1625.70,313.38) scale(1.000)" x="0" y="14.3" font-size="38" text-anchor="middle" fill="#000" stroke="#000" stroke-width="0.4">?</text>
<circle cx="1704.30" cy="313.38" r="18.7" fill="#bf0000" stroke="#000" stroke-width="1.3"/>
<text transform="translate(1704.30,313.38) scale(0.920,1.050)" x="0" y="10.4" font-size="38" text-anchor="middle" fill="#000" stroke="#000" stroke-width="0.4">x</text>
<rect x="965.2" y="339.70" width="149.60" height="52.65" fill="#b0b0b0" stroke="#4d4d4d" stroke-width="1.5"/>
<text x="1040.00" y="373.42" font-size="20.1" text-anchor="middle" fill="#1a1a1a">Zhong 2018</text>
<circle cx="1154.10" cy="366.02" r="18.7" fill="#e2df07" stroke="#000" stroke-width="1.3"/>
<text transform="translate(1154.10,366.02) scale(0.780,1.000)" x="0" y="11.6" font-size="38" text-anchor="middle" fill="#000">-</text>
<circle cx="1232.70" cy="366.02" r="18.7" fill="#02c100" stroke="#000" stroke-width="1.3"/>
<text transform="translate(1232.70,366.02) scale(1.000)" x="0" y="13.0" font-size="38" text-anchor="middle" fill="#000" stroke="#000" stroke-width="0.5">+</text>
<circle cx="1311.30" cy="366.02" r="18.7" fill="#02c100" stroke="#000" stroke-width="1.3"/>
<text transform="translate(1311.30,366.02) scale(1.000)" x="0" y="13.0" font-size="38" text-anchor="middle" fill="#000" stroke="#000" stroke-width="0.5">+</text>
<circle cx="1389.90" cy="366.02" r="18.7" fill="#02c100" stroke="#000" stroke-width="1.3"/>
<text transform="translate(1389.90,366.02) scale(1.000)" x="0" y="13.0" font-size="38" text-anchor="middle" fill="#000" stroke="#000" stroke-width="0.5">+</text>
<circle cx="1468.50" cy="366.02" r="18.7" fill="#02c100" stroke="#000" stroke-width="1.3"/>
<text transform="translate(1468.50,366.02) scale(1.000)" x="0" y="13.0" font-size="38" text-anchor="middle" fill="#000" stroke="#000" stroke-width="0.5">+</text>
<circle cx="1547.10" cy="366.02" r="18.7" fill="#4ea1f7" stroke="#000" stroke-width="1.3"/>
<text transform="translate(1547.10,366.02) scale(1.000)" x="0" y="14.3" font-size="38" text-anchor="middle" fill="#000" stroke="#000" stroke-width="0.4">?</text>
<circle cx="1625.70" cy="366.02" r="18.7" fill="#4ea1f7" stroke="#000" stroke-width="1.3"/>
<text transform="translate(1625.70,366.02) scale(1.000)" x="0" y="14.3" font-size="38" text-anchor="middle" fill="#000" stroke="#000" stroke-width="0.4">?</text>
<circle cx="1704.30" cy="366.02" r="18.7" fill="#e2df07" stroke="#000" stroke-width="1.3"/>
<text transform="translate(1704.30,366.02) scale(0.780,1.000)" x="0" y="11.6" font-size="38" text-anchor="middle" fill="#000">-</text>
<text x="1124.20" y="412.70" font-size="16.8" fill="#000">Domains:</text>
<text x="1124.20" y="431.10" font-size="16.8" fill="#000">D1: Bias due to confounding.</text>
<text x="1124.20" y="449.37" font-size="16.8" fill="#000">D2: Bias due to selection of participants.</text>
<text x="1124.20" y="467.64" font-size="16.8" fill="#000">D3: Bias in classification of interventions.</text>
<text x="1124.20" y="485.91" font-size="16.8" fill="#000">D4: Bias due to deviations from intended interventions.</text>
<text x="1124.20" y="504.18" font-size="16.8" fill="#000">D5: Bias due to missing data.</text>
<text x="1124.20" y="522.45" font-size="16.8" fill="#000">D6: Bias in measurement of outcomes.</text>
<text x="1124.20" y="540.72" font-size="16.8" fill="#000">D7: Bias in selection of the reported result.</text>
<text x="1607.90" y="414.40" font-size="15.15" fill="#000">Judgement</text>
<circle cx="1622.5" cy="437.9" r="12.2" fill="#bf0000"/>
<text transform="translate(1622.50,437.90) scale(0.396,0.452)" x="0" y="10.4" font-size="38" text-anchor="middle" fill="#000" stroke="#000" stroke-width="0.4">x</text>
<text x="1644.90" y="443.30" font-size="15.15" fill="#000">Serious</text>
<circle cx="1622.5" cy="467.1" r="12.2" fill="#e2df07"/>
<text transform="translate(1622.50,467.10) scale(0.390,0.500)" x="0" y="11.6" font-size="38" text-anchor="middle" fill="#000">-</text>
<text x="1644.90" y="472.50" font-size="15.15" fill="#000">Moderate</text>
<circle cx="1622.5" cy="496.4" r="12.2" fill="#02c100"/>
<text transform="translate(1622.50,496.40) scale(0.500)" x="0" y="13.0" font-size="38" text-anchor="middle" fill="#000" stroke="#000" stroke-width="0.5">+</text>
<text x="1644.90" y="501.80" font-size="15.15" fill="#000">Low</text>
<circle cx="1622.5" cy="525.5" r="12.2" fill="#4ea1f7"/>
<text transform="translate(1622.50,525.50) scale(0.500)" x="0" y="14.3" font-size="38" text-anchor="middle" fill="#000" stroke="#000" stroke-width="0.4">?</text>
<text x="1644.90" y="530.90" font-size="15.15" fill="#000">No information</text>
<rect x="1224.40" y="930.00" width="103.42" height="16.7" fill="#e2df07" stroke="#000" stroke-width="1.6"/>
<rect x="1327.82" y="930.00" width="413.68" height="16.7" fill="#bf0000" stroke="#000" stroke-width="1.6"/>
<text x="1190.40" y="944.60" font-size="16.52" text-anchor="end" fill="#000">Bias due to confounding</text>
<rect x="1224.40" y="953.70" width="517.10" height="16.7" fill="#02c100" stroke="#000" stroke-width="1.6"/>
<text x="1190.40" y="968.30" font-size="16.52" text-anchor="end" fill="#000">Bias due to selection of participants</text>
<rect x="1224.40" y="977.40" width="517.10" height="16.7" fill="#02c100" stroke="#000" stroke-width="1.6"/>
<text x="1190.40" y="992.00" font-size="16.52" text-anchor="end" fill="#000">Bias in classification of interventions</text>
<rect x="1224.40" y="1001.10" width="103.42" height="16.7" fill="#02c100" stroke="#000" stroke-width="1.6"/>
<rect x="1327.82" y="1001.10" width="413.68" height="16.7" fill="#e2df07" stroke="#000" stroke-width="1.6"/>
<text x="1190.40" y="1015.70" font-size="16.52" text-anchor="end" fill="#000">Bias due to deviations from intended interventions</text>
<rect x="1224.40" y="1024.80" width="517.10" height="16.7" fill="#02c100" stroke="#000" stroke-width="1.6"/>
<text x="1190.40" y="1039.40" font-size="16.52" text-anchor="end" fill="#000">Bias due to missing data</text>
<rect x="1224.40" y="1048.50" width="517.10" height="16.7" fill="#4ea1f7" stroke="#000" stroke-width="1.6"/>
<text x="1190.40" y="1063.10" font-size="16.52" text-anchor="end" fill="#000">Bias in measurement of outcomes</text>
<rect x="1224.40" y="1072.20" width="517.10" height="16.7" fill="#4ea1f7" stroke="#000" stroke-width="1.6"/>
<text x="1190.40" y="1086.80" font-size="16.52" text-anchor="end" fill="#000">Bias in selection of the reported result</text>
<rect x="1224.40" y="1095.90" width="103.42" height="16.7" fill="#e2df07" stroke="#000" stroke-width="1.6"/>
<rect x="1327.82" y="1095.90" width="413.68" height="16.7" fill="#bf0000" stroke="#000" stroke-width="1.6"/>
<text x="1190.40" y="1110.50" font-size="16.52" font-weight="bold" text-anchor="end" fill="#000">Overall risk of bias</text>
<rect x="1199" y="1117.8" width="567.5" height="1.4" fill="#111"/>
<rect x="1224.30" y="1118" width="1.4" height="4.7" fill="#111"/>
<text x="1225.00" y="1137.80" font-size="14.5" text-anchor="middle" fill="#585858">0%</text>
<rect x="1353.58" y="1118" width="1.4" height="4.7" fill="#111"/>
<text x="1354.28" y="1137.80" font-size="14.5" text-anchor="middle" fill="#585858">25%</text>
<rect x="1482.85" y="1118" width="1.4" height="4.7" fill="#111"/>
<text x="1483.55" y="1137.80" font-size="14.5" text-anchor="middle" fill="#585858">50%</text>
<rect x="1612.12" y="1118" width="1.4" height="4.7" fill="#111"/>
<text x="1612.82" y="1137.80" font-size="14.5" text-anchor="middle" fill="#585858">75%</text>
<rect x="1741.40" y="1118" width="1.4" height="4.7" fill="#111"/>
<text x="1742.10" y="1137.80" font-size="14.5" text-anchor="middle" fill="#585858">100%</text>
<rect x="1280.3" y="1158.9" width="405.3" height="36.3" fill="#fff" stroke="#000" stroke-width="1.4"/>
<rect x="1299.9" y="1169.7" width="15.2" height="15.2" fill="#02c100" stroke="#000" stroke-width="1.5"/>
<text x="1328.30" y="1180.90" font-size="9.9" fill="#000">Low risk</text>
<rect x="1380.9" y="1169.7" width="15.2" height="15.2" fill="#e2df07" stroke="#000" stroke-width="1.5"/>
<text x="1409.60" y="1180.90" font-size="9.9" fill="#000">Moderate risk</text>
<rect x="1483.0" y="1169.7" width="15.2" height="15.2" fill="#bf0000" stroke="#000" stroke-width="1.5"/>
<text x="1511.60" y="1180.90" font-size="9.9" fill="#000">Serious risk</text>
<rect x="1580.0" y="1169.7" width="15.2" height="15.2" fill="#4ea1f7" stroke="#000" stroke-width="1.5"/>
<text x="1608.40" y="1180.90" font-size="9.9" fill="#000">No information</text>
</svg>
</body></html>
